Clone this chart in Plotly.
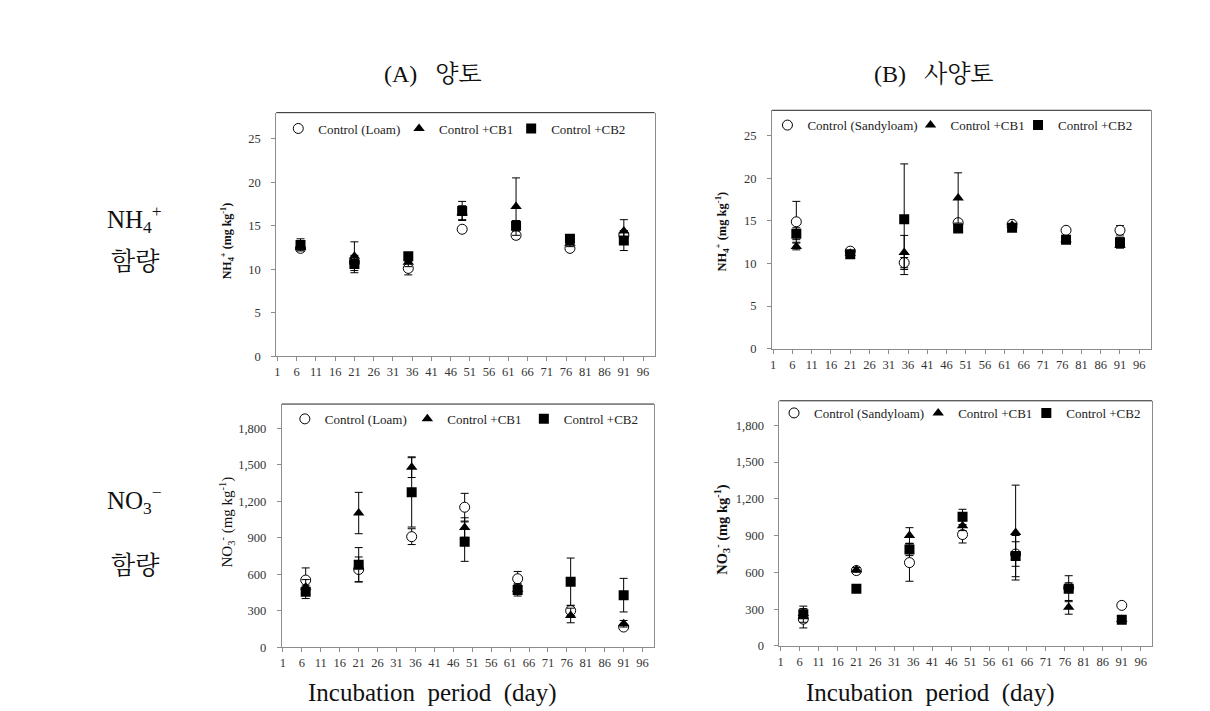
import plotly.graph_objects as go

# ---------------- data ----------------
days = [7, 21, 35, 49, 63, 77, 91]
x_tick_start = 1
x_tick_step = 5

series_names_loam = ["Control (Loam)", "Control +CB1", "Control +CB2"]
series_names_sandy = ["Control (Sandyloam)", "Control +CB1", "Control +CB2"]

# NH4+ (mg kg-1), loam
nh4_loam_ctrl = [12.4, 10.8, 10.1, 14.6, 13.9, 12.4, 13.9]
nh4_loam_ctrl_sd = [0.3, 0.4, 0.75, 0.3, 0.4, 0.3, 0.3]
nh4_loam_cb1 = [12.6, 11.5, 10.8, 16.5, 17.2, 13.0, 14.4]
nh4_loam_cb1_sd = [0.4, 1.65, 0.5, 0.8, 3.3, 0.4, 1.3]
nh4_loam_cb2 = [12.8, 10.6, 11.5, 16.7, 15.0, 13.5, 13.3]
nh4_loam_cb2_sd = [0.7, 1.0, 0.4, 1.1, 0.6, 0.4, 1.15]

# NH4+ (mg kg-1), sandy loam
nh4_sandy_ctrl = [14.9, 11.45, 10.1, 14.8, 14.6, 13.9, 13.9]
nh4_sandy_ctrl_sd = [2.4, 0.3, 0.6, 0.3, 0.2, 0.3, 0.55]
nh4_sandy_cb1 = [12.0, 11.2, 11.3, 17.7, 14.5, 12.8, 12.1]
nh4_sandy_cb1_sd = [0.4, 0.2, 2.0, 2.95, 0.2, 0.3, 0.3]
nh4_sandy_cb2 = [13.5, 11.1, 15.2, 14.1, 14.2, 12.8, 12.5]
nh4_sandy_cb2_sd = [0.7, 0.2, 6.5, 0.3, 0.3, 0.4, 0.6]

# NO3- (mg kg-1), loam
no3_loam_ctrl = [553, 640, 910, 1152, 564, 302, 167]
no3_loam_ctrl_sd = [100, 103, 65, 114, 60, 40, 20]
no3_loam_cb1 = [497, 1104, 1481, 985, 478, 262, 194]
no3_loam_cb1_sd = [60, 170, 85, 80, 40, 60, 27]
no3_loam_cb2 = [456, 680, 1274, 869, 472, 540, 429]
no3_loam_cb2_sd = [55, 140, 285, 162, 50, 194, 138]

# NO3- (mg kg-1), sandy loam
no3_sandy_ctrl = [219, 615, 680, 909, 750, 475, 331]
no3_sandy_ctrl_sd = [72, 20, 152, 69, 100, 40, 15]
no3_sandy_cb1 = [265, 621, 901, 981, 925, 315, 215]
no3_sandy_cb1_sd = [40, 20, 64, 40, 387, 56, 30]
no3_sandy_cb2 = [259, 467, 787, 1053, 733, 467, 213]
no3_sandy_cb2_sd = [66, 15, 50, 62, 168, 106, 20]

col_titles = ["(A)\u00a0\u00a0\u00a0양토", "(B)\u00a0\u00a0\u00a0사양토"]
row_titles = [("NH<sub>4</sub><sup>+</sup>", "함량"), ("NO<sub>3</sub><sup>−</sup>", "함량")]
x_title = "Incubation\u00a0\u00a0period\u00a0\u00a0(day)"
nh4_ytitle = "NH<sub>4</sub><sup>+</sup> (mg kg<sup>-1</sup>)"
no3_ytitle = "NO<sub>3</sub><sup>-</sup> (mg kg<sup>-1</sup>)"

# ---------------- layout helpers ----------------
W, H = 1210, 711
def px(x):
    return x / W
def py(y):
    return 1 - y / H

SERIF = "'Liberation Serif', 'Times New Roman', Times, serif"
KSERIF = "'Liberation Serif', 'Noto Serif CJK KR', 'Noto Sans CJK KR', serif"
GRAY = "#8c8c8c"

panels = [
    dict(n="", xd=(266.7, 645.7), yd=(105.7, 351.7), yr=[0, 28], dt=5, fmt="",
         names=series_names_loam,
         data=[(nh4_loam_ctrl, nh4_loam_ctrl_sd), (nh4_loam_cb1, nh4_loam_cb1_sd), (nh4_loam_cb2, nh4_loam_cb2_sd)],
         leg_x=[268.7, 389.7, 502.0], leg_y=121.7,
         ytitle=nh4_ytitle, yt_bold=True, yt_size=12, yt_xy=(218, 235)),
    dict(n="2", xd=(763.3, 1142.7), yd=(103.3, 344.0), yr=[0, 28], dt=5, fmt="",
         names=series_names_sandy,
         data=[(nh4_sandy_ctrl, nh4_sandy_ctrl_sd), (nh4_sandy_cb1, nh4_sandy_cb1_sd), (nh4_sandy_cb2, nh4_sandy_cb2_sd)],
         leg_x=[758.7, 902.0, 1009.7], leg_y=118.3,
         ytitle=nh4_ytitle, yt_bold=True, yt_size=12.5, yt_xy=(713, 226)),
    dict(n="3", xd=(272.3, 645.0), yd=(400.0, 645.7), yr=[0, 2000], dt=300, fmt=",",
         names=series_names_loam,
         data=[(no3_loam_ctrl, no3_loam_ctrl_sd), (no3_loam_cb1, no3_loam_cb1_sd), (no3_loam_cb2, no3_loam_cb2_sd)],
         leg_x=[275.3, 398.0, 514.7], leg_y=415.0,
         ytitle=no3_ytitle, yt_bold=False, yt_size=15, yt_xy=(217, 519)),
    dict(n="4", xd=(770.7, 1144.0), yd=(396.7, 644.3), yr=[0, 2000], dt=300, fmt=",",
         names=series_names_sandy,
         data=[(no3_sandy_ctrl, no3_sandy_ctrl_sd), (no3_sandy_cb1, no3_sandy_cb1_sd), (no3_sandy_cb2, no3_sandy_cb2_sd)],
         leg_x=[765.3, 909.7, 1018.0], leg_y=409.0,
         ytitle=no3_ytitle, yt_bold=True, yt_size=14.5, yt_xy=(713, 527)),
]

marker_styles = [
    dict(symbol="circle", size=10, color="white", line=dict(color="black", width=1)),
    dict(symbol="triangle-up", size=10, color="black", line=dict(color="black", width=0)),
    dict(symbol="square", size=10, color="black", line=dict(color="black", width=0)),
]

fig = go.Figure()
layout = dict()
annotations = []
shapes = []
leg_idx = 0

for p in panels:
    n = p["n"]
    xa, ya = "x" + n, "y" + n
    for s, ((vals, sd), name) in enumerate(zip(p["data"], p["names"])):
        leg_idx += 1
        lname = "legend" if leg_idx == 1 else "legend%d" % leg_idx
        fig.add_trace(go.Scatter(
            x=days, y=vals, mode="markers", name=name,
            marker=marker_styles[s],
            error_y=dict(type="data", array=sd, visible=True, color="black", thickness=1, width=4),
            xaxis=xa, yaxis=ya, legend=lname, showlegend=True,
        ))
        layout[lname] = dict(
            x=px(p["leg_x"][s]), y=py(p["leg_y"]), xanchor="left", yanchor="middle",
            orientation="h", bgcolor="rgba(0,0,0,0)", borderwidth=0,
            font=dict(family=SERIF, size=13, color="#222222"),
        )
    layout["xaxis" + n] = dict(
        domain=[px(p["xd"][0]), px(p["xd"][1])], anchor=ya,
        range=[0.7, 99], tick0=x_tick_start, dtick=x_tick_step,
        showline=True, linecolor=GRAY, linewidth=1, mirror=False,
        ticks="outside", ticklen=4, tickcolor=GRAY, showgrid=False, zeroline=False,
        tickfont=dict(family=SERIF, size=12.5, color="#333333"),
    )
    layout["yaxis" + n] = dict(
        domain=[py(p["yd"][1]), py(p["yd"][0])], anchor=xa,
        range=p["yr"], tick0=0, dtick=p["dt"], tickformat=p["fmt"],
        showline=True, linecolor=GRAY, linewidth=1, mirror=True,
        ticks="outside", ticklen=4, tickcolor=GRAY, showgrid=False, zeroline=False,
        ticklabelstandoff=8,
        tickfont=dict(family=SERIF, size=12.5, color="#333333"),
    )
    shapes.append(dict(type="line", xref=xa + " domain", yref=ya + " domain",
                       x0=0, x1=1, y0=1, y1=1, line=dict(color="#222222", width=1)))
    t = p["ytitle"]
    if p["yt_bold"]:
        t = "<b>" + t + "</b>"
    annotations.append(dict(
        text=t, x=px(p["yt_xy"][0]), y=py(p["yt_xy"][1]), xref="paper", yref="paper",
        textangle=-90, showarrow=False, xanchor="center", yanchor="middle",
        font=dict(family=SERIF, size=p["yt_size"], color="#111111"),
    ))

for t, xc in zip(col_titles, [424, 926]):
    annotations.append(dict(text=t, x=px(xc), y=py(67), xref="paper", yref="paper",
                            showarrow=False, xanchor="center", yanchor="middle",
                            font=dict(family=KSERIF, size=24, color="#111111")))
for xc in [423, 922]:
    annotations.append(dict(text=x_title, x=px(xc), y=py(692), xref="paper", yref="paper",
                            showarrow=False, xanchor="center", yanchor="middle",
                            font=dict(family=SERIF, size=25, color="#111111")))
for (chem, kr), (y1, y2) in zip(row_titles, [(213, 256), (497, 563)]):
    annotations.append(dict(text=chem, x=px(125), y=py(y1), xref="paper", yref="paper",
                            showarrow=False, xanchor="center", yanchor="middle",
                            font=dict(family=SERIF, size=25, color="#111111")))
    annotations.append(dict(text=kr, x=px(126), y=py(y2), xref="paper", yref="paper",
                            showarrow=False, xanchor="center", yanchor="middle",
                            font=dict(family=KSERIF, size=25, color="#111111")))

fig.update_layout(
    width=W, height=H, margin=dict(l=0, r=0, t=0, b=0),
    paper_bgcolor="white", plot_bgcolor="white",
    font=dict(family=SERIF),
    annotations=annotations, shapes=shapes,
    **layout,
)

fig.write_html("out.html")
